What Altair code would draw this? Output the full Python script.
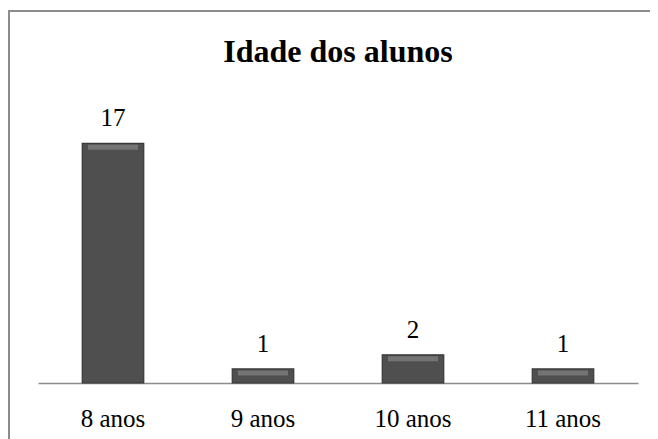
import altair as alt
import pandas as pd

categorias = ["8 anos", "9 anos", "10 anos", "11 anos"]
valores = [17, 1, 2, 1]
titulo = "Idade dos alunos"

df = pd.DataFrame({"idade": categorias, "alunos": valores})

FONT = "Times New Roman, Liberation Serif, serif"

x_enc = alt.X(
    "idade:N",
    sort=categorias,
    scale=alt.Scale(paddingInner=0.59, paddingOuter=0.295),
    axis=alt.Axis(
        title=None,
        labelAngle=0,
        labelFont=FONT,
        labelFontSize=25,
        labelColor="#000000",
        labelBaseline="alphabetic",
        labelPadding=43,
        ticks=False,
        tickSize=0,
        domainColor="#8c8c8c",
        domainWidth=1.5,
        grid=False,
    ),
)
y_enc = alt.Y("alunos:Q", scale=alt.Scale(domain=[0, 20]), axis=None)

base = alt.Chart(df)

bars = base.mark_bar(
    color="#4f4f4f",
    stroke="#383838",
    strokeWidth=1.2,
).encode(x=x_enc, y=y_enc)

tops = base.mark_tick(
    color="#858585",
    thickness=5,
    size=50,
    yOffset=4,
).encode(x=x_enc, y=y_enc)

labels = base.mark_text(
    font=FONT, fontSize=25, color="#000000", baseline="alphabetic", dy=-17
).encode(x=x_enc, y=y_enc, text="alunos:Q")

frame = base.mark_rect(
    fill="transparent", stroke="#8c8c8c", strokeWidth=2
).encode(
    x=alt.value(-29), y=alt.value(-90), x2=alt.value(700), y2=alt.value(400)
).transform_filter(alt.datum.idade == "8 anos")

title = base.mark_text(
    font=FONT, fontSize=32, fontWeight="bold", color="#000000",
    baseline="alphabetic", align="center"
).encode(
    x=alt.value(300), y=alt.value(-39), text=alt.value(titulo)
).transform_filter(alt.datum.idade == "8 anos")

chart = (
    alt.layer(frame, bars, tops, labels, title)
    .properties(
        width=600,
        height=282,
        autosize=alt.AutoSizeParams(type="none"),
        padding={"left": 30, "top": 93, "right": 12, "bottom": 56},
    )
    .configure(background="white", view=alt.ViewConfig(stroke="transparent", strokeWidth=0))
)

chart.save("out.html", embed_options={"renderer": "svg", "actions": False})
